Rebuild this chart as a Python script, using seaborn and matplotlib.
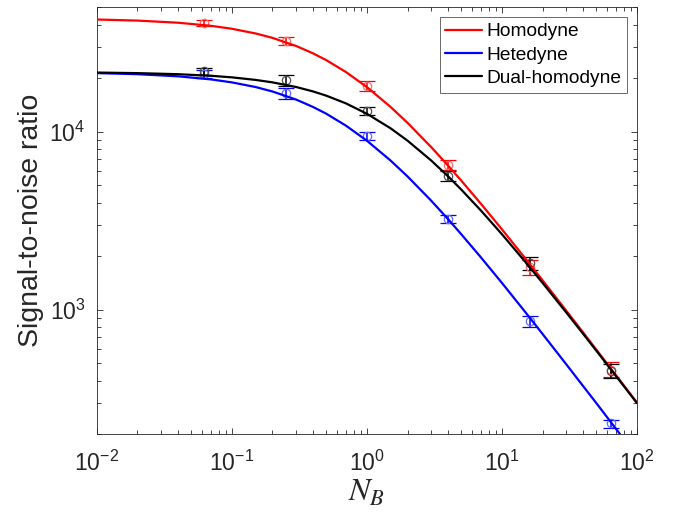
import numpy as np
import pandas as pd
import matplotlib
matplotlib.use("Agg")
import matplotlib.pyplot as plt
from matplotlib.lines import Line2D
from matplotlib.ticker import LogLocator, NullFormatter
import seaborn as sns

# ---- data ----
curve_x = [0.01, 0.02, 0.04, 0.07, 0.1, 0.15, 0.2, 0.3, 0.4, 0.5, 0.7, 1, 1.5, 2,
           3, 4, 5, 7, 10, 15, 20, 30, 40, 50, 70, 100]
homodyne_curve = [42690, 42100, 40960, 39360, 37880, 35650, 33670, 30300, 27540,
                  25250, 21640, 17820, 13770, 11220, 8185, 6443, 5313, 3933, 2830,
                  1929, 1463, 986, 744, 597, 428, 301]
heterodyne_curve = [21350, 21050, 20480, 19680, 18940, 17830, 16830, 15150, 13770,
                    12630, 10820, 8910, 6884, 5609, 4093, 3222, 2656, 1966, 1415,
                    964, 731, 493, 372, 299, 214, 150]
dual_curve = [21500, 21340, 21050, 20620, 20210, 19550, 18940, 17830, 16840, 15950,
              14430, 12620, 10450, 8909, 6884, 5609, 4732, 3605, 2656, 1846, 1415,
              964, 731, 589, 424, 299]

point_x = [0.0625, 0.25, 1, 4, 16, 64]
homodyne_pts = [40980, 32340, 18070, 6500, 1740, 462]
homodyne_err = [1600, 1750, 1100, 400, 175, 45]
heterodyne_pts = [21100, 16440, 9470, 3240, 863, 230]
heterodyne_err = [1100, 1150, 520, 175, 65, 12]
dual_pts = [21940, 19530, 13070, 5640, 1830, 455]
dual_err = [1000, 1400, 650, 345, 150, 40]

labels = ["Homodyne", "Hetedyne", "Dual-homodyne"]
colors = ["#ff0000", "#0000ff", "#000000"]
marker_colors = ["#ff6a6a", "#6a6aff", "#505050"]

# ---- styling ----
sns.set_style("ticks")
plt.rcParams["font.family"] = ["Liberation Sans", "DejaVu Sans"]
plt.rcParams["mathtext.fontset"] = "stix"
plt.rcParams["mathtext.default"] = "regular"

fig = plt.figure(figsize=(6.85, 5.17), dpi=100)
ax = fig.add_axes([0.1412, 0.160, 0.7888, 0.8259])

df = pd.DataFrame({
    "N": curve_x * 3,
    "snr": homodyne_curve + heterodyne_curve + dual_curve,
    "series": [labels[0]] * len(curve_x) + [labels[1]] * len(curve_x) + [labels[2]] * len(curve_x),
})

ax.set_xscale("log")
ax.set_yscale("log")

pts = [homodyne_pts, heterodyne_pts, dual_pts]
errs = [homodyne_err, heterodyne_err, dual_err]
for p, e, c, mc in zip(pts, errs, colors, marker_colors):
    ax.errorbar(point_x, p, yerr=e, fmt="o", mfc="none", mec=mc, mew=0.9, ms=6,
                ecolor=c, elinewidth=1.1, capsize=5.5, capthick=1.1, zorder=2)

sns.lineplot(data=df, x="N", y="snr", hue="series", hue_order=labels,
             palette=dict(zip(labels, colors)), linewidth=1.6, legend=False,
             ax=ax, zorder=3, sort=False)

ax.set_xlim(1e-2, 1e2)
ax.set_ylim(200, 5e4)

ax.xaxis.set_major_locator(LogLocator(base=10, numticks=10))
ax.xaxis.set_minor_locator(LogLocator(base=10, subs=np.arange(2, 10), numticks=20))
ax.yaxis.set_minor_locator(LogLocator(base=10, subs=np.arange(2, 10), numticks=20))
ax.xaxis.set_minor_formatter(NullFormatter())
ax.yaxis.set_minor_formatter(NullFormatter())

axc = "#262626"
ax.tick_params(which="both", direction="in", top=True, right=True, width=0.6,
               colors=axc, labelcolor=axc)
ax.tick_params(which="major", length=4.5, labelsize=16.5)
ax.tick_params(axis="x", which="major", pad=12)
ax.tick_params(axis="y", which="major", pad=8)
ax.tick_params(which="minor", length=3)
for s in ax.spines.values():
    s.set_visible(True)
    s.set_color(axc)
    s.set_linewidth(0.6)

ax.set_xlabel(r"$\mathit{N}_{\mathit{B}}$", fontsize=23, color=axc, labelpad=1)
ax.set_ylabel("Signal-to-noise ratio", fontsize=20.5, color=axc, labelpad=4)

handles = [Line2D([0], [0], color=c, lw=1.6) for c in colors]
leg = ax.legend(handles, labels, loc="upper right", bbox_to_anchor=(0.982, 0.9766),
                borderaxespad=0, fontsize=13.8, frameon=True, fancybox=False,
                handlelength=1.9, handletextpad=0.25, borderpad=0.3,
                labelspacing=0.3)
leg.get_frame().set_edgecolor("#262626")
leg.get_frame().set_linewidth(0.6)
for t in leg.get_texts():
    t.set_color("#000000")

fig.savefig("out.png", dpi=100)
